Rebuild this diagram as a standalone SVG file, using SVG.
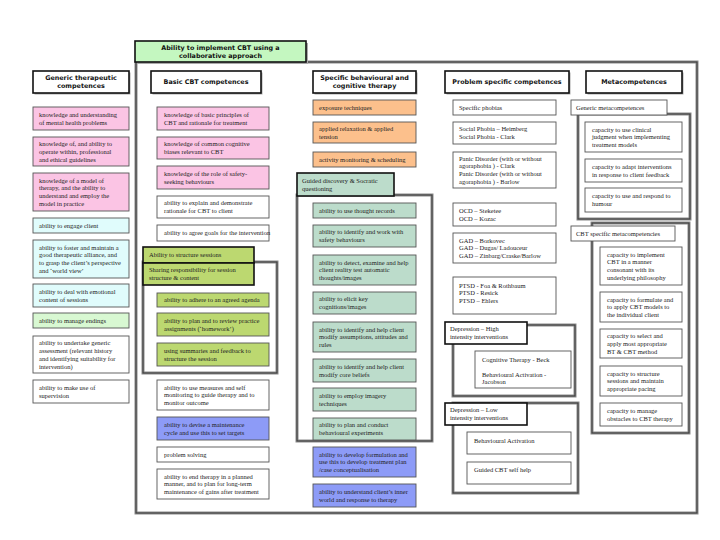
<svg xmlns="http://www.w3.org/2000/svg" width="720" height="540" viewBox="0 0 720 540">
<style>
.bx{stroke:#555;stroke-width:0.9}
.w{fill:#fff}.pk{fill:#fbc4e4}.cy{fill:#e0fcfc}.lg{fill:#d8f8d2}.yg{fill:#bcd870}.or{fill:#fcc08c}.tl{fill:#bcdccb}.bl{fill:#8d9bf7}
.lb{stroke:#111;stroke-width:1.6}
.hd{fill:#fff;stroke:#111;stroke-width:1.6}
.sh{fill:#aaa}
.fo{fill:none;stroke:#8a8a8a;stroke-width:3}
.fi{fill:none;stroke:#333;stroke-width:0.9}
.t{font-family:"Liberation Serif","Times New Roman",serif;font-size:6.5px;fill:#222}
.h{font-family:"DejaVu Sans",Verdana,sans-serif;font-weight:bold;font-size:6.4px;fill:#111;text-anchor:middle}
</style>
<rect width="720" height="540" fill="#fff"/>

<g id="frames">
  <rect x="136" y="62" width="561" height="451" fill="#fff" class="fo"/>
  <rect x="136" y="62" width="561" height="451" class="fi"/>
  <rect x="143" y="262" width="134" height="111" fill="#fff" class="fo"/>
  <rect x="143" y="262" width="134" height="111" class="fi"/>
  <rect x="297" y="195" width="135" height="246" fill="#fff" class="fo"/>
  <rect x="297" y="195" width="135" height="246" class="fi"/>
  <rect x="453" y="325" width="122" height="71" fill="#fff" class="fo"/>
  <rect x="453" y="325" width="122" height="71" class="fi"/>
  <rect x="453" y="403" width="125" height="90" fill="#fff" class="fo"/>
  <rect x="453" y="403" width="125" height="90" class="fi"/>
  <rect x="578" y="114" width="112" height="105" fill="#fff" class="fo"/>
  <rect x="578" y="114" width="112" height="105" class="fi"/>
  <rect x="592" y="223" width="97" height="210" fill="#fff" class="fo"/>
  <rect x="592" y="223" width="97" height="210" class="fi"/>
</g>

<g id="connectors"></g>

<g id="title">
  <rect x="137" y="43" width="171" height="21" class="sh"/>
  <rect x="135" y="41" width="171" height="21" fill="#c4f7c0" class="lb"/>
  <text class="h" x="220.5" y="49.9" font-size="6.3px"><tspan x="220.5">Ability to implement CBT using a</tspan><tspan x="220.5" dy="7.8">collaborative approach</tspan></text>
</g>

<g id="headings">
  <g id="h-generic"><rect x="34.5" y="72.5" width="96" height="22" class="sh"/><rect x="33" y="71" width="96" height="22" class="hd"/><text class="h"><tspan x="81" y="80.4">Generic therapeutic</tspan><tspan x="81" dy="7.8">competences</tspan></text></g>
  <g id="h-basic"><rect x="152.5" y="72.5" width="110" height="22" class="sh"/><rect x="151" y="71" width="110" height="22" class="hd"/><text class="h" x="206" y="84.3">Basic CBT competences</text></g>
  <g id="h-specific"><rect x="314.5" y="72.5" width="103" height="22" class="sh"/><rect x="313" y="71" width="103" height="22" class="hd"/><text class="h"><tspan x="364.5" y="80.4">Specific behavioural and</tspan><tspan x="364.5" dy="7.8">cognitive therapy</tspan></text></g>
  <g id="h-problem"><rect x="446.5" y="72.5" width="124" height="22" class="sh"/><rect x="445" y="71" width="124" height="22" class="hd"/><text class="h" x="507" y="84.3">Problem specific competences</text></g>
  <g id="h-meta"><rect x="587.5" y="72.5" width="96" height="22" class="sh"/><rect x="586" y="71" width="96" height="22" class="hd"/><text class="h" x="634" y="84.3">Metacompetences</text></g>
</g>

<g id="generic">
  <g id="g1"><rect x="33" y="107" width="96" height="23" class="bx pk"/><text class="t"><tspan x="39" y="116.9">knowledge and understanding</tspan><tspan x="39" dy="7.8">of mental health problems</tspan></text></g>
  <g id="g2"><rect x="33" y="137" width="96" height="29" class="bx pk"/><text class="t"><tspan x="39" y="146">knowledge of, and ability to</tspan><tspan x="39" dy="7.8">operate within, professional</tspan><tspan x="39" dy="7.8">and ethical guidelines</tspan></text></g>
  <g id="g3"><rect x="33" y="173" width="96" height="38" class="bx pk"/><text class="t"><tspan x="39" y="182.6">knowledge of a model of</tspan><tspan x="39" dy="7.8">therapy, and the ability to</tspan><tspan x="39" dy="7.8">understand and employ the</tspan><tspan x="39" dy="7.8">model  in practice</tspan></text></g>
  <g id="g4"><rect x="33" y="218" width="96" height="15" class="bx cy"/><text class="t" x="39" y="227.8">ability to engage client</text></g>
  <g id="g5"><rect x="33" y="240" width="96" height="38" class="bx cy"/><text class="t"><tspan x="39" y="249.6">ability to foster and maintain a</tspan><tspan x="39" dy="7.8">good therapeutic alliance, and</tspan><tspan x="39" dy="7.8">to grasp the client’s perspective</tspan><tspan x="39" dy="7.8">and ‘world view’</tspan></text></g>
  <g id="g6"><rect x="33" y="284" width="96" height="23" class="bx cy"/><text class="t"><tspan x="39" y="293.9">ability to deal with emotional</tspan><tspan x="39" dy="7.8">content of sessions</tspan></text></g>
  <g id="g7"><rect x="33" y="313" width="96" height="15" class="bx lg"/><text class="t" x="39" y="322.8">ability to manage endings</text></g>
  <g id="g8"><rect x="33" y="336" width="96" height="37" class="bx w"/><text class="t"><tspan x="39" y="345.1">ability to undertake generic</tspan><tspan x="39" dy="7.8">assessment  (relevant history</tspan><tspan x="39" dy="7.8">and  identifying suitability for</tspan><tspan x="39" dy="7.8">intervention)</tspan></text></g>
  <g id="g9"><rect x="33" y="380" width="96" height="23" class="bx w"/><text class="t"><tspan x="39" y="389.9">ability to make use of</tspan><tspan x="39" dy="7.8">supervision</tspan></text></g>
</g>

<g id="basic">
  <g id="b1"><rect x="157" y="107" width="112" height="23" class="bx pk"/><text class="t"><tspan x="164" y="116.9">knowledge of basic principles of</tspan><tspan x="164" dy="7.8">CBT and rationale for treatment</tspan></text></g>
  <g id="b2"><rect x="157" y="137" width="112" height="22" class="bx pk"/><text class="t"><tspan x="164" y="146.4">knowledge of common  cognitive</tspan><tspan x="164" dy="7.8">biases relevant to CBT</tspan></text></g>
  <g id="b3"><rect x="157" y="166" width="112" height="23" class="bx pk"/><text class="t"><tspan x="164" y="175.9">knowledge of the role of safety-</tspan><tspan x="164" dy="7.8">seeking behaviours</tspan></text></g>
  <g id="b4"><rect x="157" y="196" width="112" height="22" class="bx w"/><text class="t"><tspan x="164" y="205.4">ability to explain and demonstrate</tspan><tspan x="164" dy="7.8">rationale for CBT to client</tspan></text></g>
  <g id="b5"><rect x="157" y="225" width="112" height="16" class="bx w"/><text class="t" x="164" y="235.3" font-size="5.7px">ability to agree goals for the intervention</text></g>
  <g id="b-struct"><rect x="143" y="247" width="111" height="16" class="lb yg"/><text class="t" x="149" y="257.3">Ability to structure sessions</text></g>
  <g id="b-share"><rect x="143" y="263" width="111" height="22" class="lb yg"/><text class="t"><tspan x="149" y="272.4">Sharing responsibility for session</tspan><tspan x="149" dy="7.8">structure &amp; content</tspan></text></g>
  <g id="b6"><rect x="157" y="293" width="112" height="14" class="bx yg"/><text class="t" x="164" y="302.3">ability to adhere to an agreed agenda</text></g>
  <g id="b7"><rect x="157" y="313" width="112" height="23" class="bx yg"/><text class="t"><tspan x="164" y="322.9">ability to plan and to review practice</tspan><tspan x="164" dy="7.8">assignments (‘homework’)</tspan></text></g>
  <g id="b8"><rect x="157" y="343" width="112" height="23" class="bx yg"/><text class="t"><tspan x="164" y="352.9">using summaries and feedback to</tspan><tspan x="164" dy="7.8">structure the session</tspan></text></g>
  <g id="b9"><rect x="157" y="380" width="112" height="30" class="bx w"/><text class="t"><tspan x="164" y="389.5">ability to use measures and self</tspan><tspan x="164" dy="7.8">monitoring to guide therapy and to</tspan><tspan x="164" dy="7.8">monitor outcome</tspan></text></g>
  <g id="b10"><rect x="157" y="417" width="112" height="23" class="bx bl"/><text class="t"><tspan x="164" y="426.9">ability to devise a maintenance</tspan><tspan x="164" dy="7.8">cycle and use this to set  targets</tspan></text></g>
  <g id="b11"><rect x="157" y="447" width="112" height="15" class="bx w"/><text class="t" x="164" y="456.8">problem solving</text></g>
  <g id="b12"><rect x="157" y="469" width="112" height="30" class="bx w"/><text class="t"><tspan x="164" y="478.5">ability to end therapy in a planned</tspan><tspan x="164" dy="7.8">manner, and to  plan for long-term</tspan><tspan x="164" dy="7.8">maintenance of gains after treatment</tspan></text></g>
</g>

<g id="specific">
  <g id="s1"><rect x="313" y="100" width="103" height="15" class="bx or"/><text class="t" x="319" y="109.8">exposure techniques</text></g>
  <g id="s2"><rect x="313" y="122" width="103" height="21" class="bx or"/><text class="t"><tspan x="319" y="130.9">applied relaxation &amp; applied</tspan><tspan x="319" dy="7.8">tension</tspan></text></g>
  <g id="s3"><rect x="313" y="152" width="103" height="15" class="bx or"/><text class="t" x="319" y="161.8">activity monitoring &amp; scheduling</text></g>
  <g id="s-guided"><rect x="297" y="173" width="97" height="23" class="lb tl"/><text class="t"><tspan x="302" y="182.9">Guided discovery &amp; Socratic</tspan><tspan x="302" dy="7.8">questioning</tspan></text></g>
  <g id="s4"><rect x="313" y="203" width="103" height="15" class="bx tl"/><text class="t" x="319" y="212.8">ability to use thought records</text></g>
  <g id="s5"><rect x="313" y="225" width="103" height="22" class="bx tl"/><text class="t"><tspan x="319" y="234.4">ability to identify and work  with</tspan><tspan x="319" dy="7.8">safety behaviours</tspan></text></g>
  <g id="s6"><rect x="313" y="255" width="103" height="30" class="bx tl"/><text class="t"><tspan x="319" y="264.5">ability to detect, examine and help</tspan><tspan x="319" dy="7.8">client reality test automatic</tspan><tspan x="319" dy="7.8">thoughts/images</tspan></text></g>
  <g id="s7"><rect x="313" y="292" width="103" height="22" class="bx tl"/><text class="t"><tspan x="319" y="301.4">ability to elicit key</tspan><tspan x="319" dy="7.8">cognitions/images</tspan></text></g>
  <g id="s8"><rect x="313" y="322" width="103" height="30" class="bx tl"/><text class="t"><tspan x="319" y="331.5">ability to identify and help client</tspan><tspan x="319" dy="7.8">modify assumptions, attitudes and</tspan><tspan x="319" dy="7.8">rules</tspan></text></g>
  <g id="s9"><rect x="313" y="359" width="103" height="23" class="bx tl"/><text class="t"><tspan x="319" y="368.9">ability to identify and help client</tspan><tspan x="319" dy="7.8">modify core beliefs</tspan></text></g>
  <g id="s10"><rect x="313" y="388" width="103" height="23" class="bx tl"/><text class="t"><tspan x="319" y="397.9">ability to employ imagery</tspan><tspan x="319" dy="7.8">techniques</tspan></text></g>
  <g id="s11"><rect x="313" y="418" width="103" height="22" class="bx tl"/><text class="t"><tspan x="319" y="427.4">ability to plan and conduct</tspan><tspan x="319" dy="7.8">behavioural experiments</tspan></text></g>
  <g id="s12"><rect x="313" y="447" width="103" height="30" class="bx bl"/><text class="t"><tspan x="319" y="456.5">ability to develop formulation and</tspan><tspan x="319" dy="7.8">use this to develop treatment plan</tspan><tspan x="319" dy="7.8">/case conceptualisation</tspan></text></g>
  <g id="s13"><rect x="313" y="484" width="103" height="23" class="bx bl"/><text class="t"><tspan x="319" y="493.9">ability to understand client’s inner</tspan><tspan x="319" dy="7.8">world and response to therapy</tspan></text></g>
</g>

<g id="problem">
  <g id="p1"><rect x="453" y="100" width="103" height="15" class="bx w"/><text class="t" x="459" y="109.8">Specific phobias</text></g>
  <g id="p2"><rect x="453" y="122" width="103" height="22" class="bx w"/><text class="t"><tspan x="459" y="131.4">Social Phobia – Heimberg</tspan><tspan x="459" dy="7.8">Social Phobia - Clark</tspan></text></g>
  <g id="p3"><rect x="453" y="152" width="103" height="36" class="bx w"/><text class="t"><tspan x="459" y="160.6">Panic Disorder (with or without</tspan><tspan x="459" dy="7.8">agoraphobia ) - Clark</tspan><tspan x="459" dy="7.8">Panic Disorder (with or without</tspan><tspan x="459" dy="7.8">agoraphobia ) - Barlow</tspan></text></g>
  <g id="p4"><rect x="453" y="203" width="103" height="23" class="bx w"/><text class="t"><tspan x="459" y="212.9">OCD – Steketee</tspan><tspan x="459" dy="7.8">OCD – Kozac</tspan></text></g>
  <g id="p5"><rect x="453" y="233" width="103" height="30" class="bx w"/><text class="t"><tspan x="459" y="242.5">GAD – Borkovec</tspan><tspan x="459" dy="7.8">GAD – Dugas/ Ladouceur</tspan><tspan x="459" dy="7.8">GAD – Zinbarg/Craske/Barlow</tspan></text></g>
  <g id="p6"><rect x="453" y="277" width="103" height="37" class="bx w"/><text class="t"><tspan x="459" y="287.5">PTSD - Foa &amp; Rothbaum</tspan><tspan x="459" dy="7.8">PTSD - Resick</tspan><tspan x="459" dy="7.8">PTSD – Ehlers</tspan></text></g>
  <g id="p-dep-high"><rect x="445" y="322" width="82" height="22" class="lb w"/><text class="t"><tspan x="450" y="331.4">Depression – High</tspan><tspan x="450" dy="7.8">intensity interventions</tspan></text></g>
  <g id="p7"><rect x="475" y="351" width="96" height="37" class="bx w"/><text class="t" font-size="6.8px"><tspan x="482" y="361.5">Cognitive Therapy  - Beck</tspan><tspan x="482" y="376.5">Behavioural Activation  -</tspan><tspan x="482" y="384.3">Jacobson</tspan></text></g>
  <g id="p-dep-low"><rect x="445" y="403" width="82" height="22" class="lb w"/><text class="t"><tspan x="450" y="412.4">Depression – Low</tspan><tspan x="450" dy="7.8">intensity interventions</tspan></text></g>
  <g id="p8"><rect x="467" y="432" width="104" height="22" class="bx w"/><text class="t" x="474" y="442.5" font-size="6.8px">Behavioural Activation</text></g>
  <g id="p9"><rect x="467" y="462" width="104" height="22" class="bx w"/><text class="t" x="474" y="471.5" font-size="6.8px">Guided CBT self help</text></g>
</g>

<g id="meta">
  <g id="m-generic"><rect x="571" y="100" width="96" height="15" class="bx w"/><text class="t" x="576" y="109.8">Generic metacompetences</text></g>
  <g id="m1"><rect x="585" y="122" width="97" height="30" class="bx w"/><text class="t"><tspan x="592" y="131.5">capacity to use clinical</tspan><tspan x="592" dy="7.8">judgment when  implementing</tspan><tspan x="592" dy="7.8">treatment models</tspan></text></g>
  <g id="m2"><rect x="585" y="159" width="97" height="23" class="bx w"/><text class="t"><tspan x="592" y="168.9">capacity to adapt interventions</tspan><tspan x="592" dy="7.8">in response to client feedback</tspan></text></g>
  <g id="m3"><rect x="585" y="188" width="97" height="24" class="bx w"/><text class="t"><tspan x="592" y="198.4">capacity to use and  respond to</tspan><tspan x="592" dy="7.8">humour</tspan></text></g>
  <g id="m-cbt"><rect x="571" y="226" width="104" height="15" class="bx w"/><text class="t" x="576" y="235.8">CBT specific metacompetencies</text></g>
  <g id="m4"><rect x="600" y="247" width="82" height="38" class="bx w"/><text class="t"><tspan x="607" y="256.6">capacity to implement</tspan><tspan x="607" dy="7.8">CBT in a manner</tspan><tspan x="607" dy="7.8">consonant with its</tspan><tspan x="607" dy="7.8">underlying philosophy</tspan></text></g>
  <g id="m5"><rect x="600" y="292" width="82" height="30" class="bx w"/><text class="t"><tspan x="607" y="301.5">capacity to formulate and</tspan><tspan x="607" dy="7.8">to apply CBT models to</tspan><tspan x="607" dy="7.8">the individual client</tspan></text></g>
  <g id="m6"><rect x="600" y="329" width="82" height="29" class="bx w"/><text class="t"><tspan x="607" y="338">capacity to select and</tspan><tspan x="607" dy="7.8">apply most appropriate</tspan><tspan x="607" dy="7.8">BT &amp; CBT method</tspan></text></g>
  <g id="m7"><rect x="600" y="366" width="82" height="30" class="bx w"/><text class="t"><tspan x="607" y="375.5">capacity to structure</tspan><tspan x="607" dy="7.8">sessions and maintain</tspan><tspan x="607" dy="7.8">appropriate pacing</tspan></text></g>
  <g id="m8"><rect x="600" y="403" width="82" height="23" class="bx w"/><text class="t"><tspan x="607" y="412.9">capacity to manage</tspan><tspan x="607" dy="7.8">obstacles to CBT therapy</tspan></text></g>
</g>
</svg>
